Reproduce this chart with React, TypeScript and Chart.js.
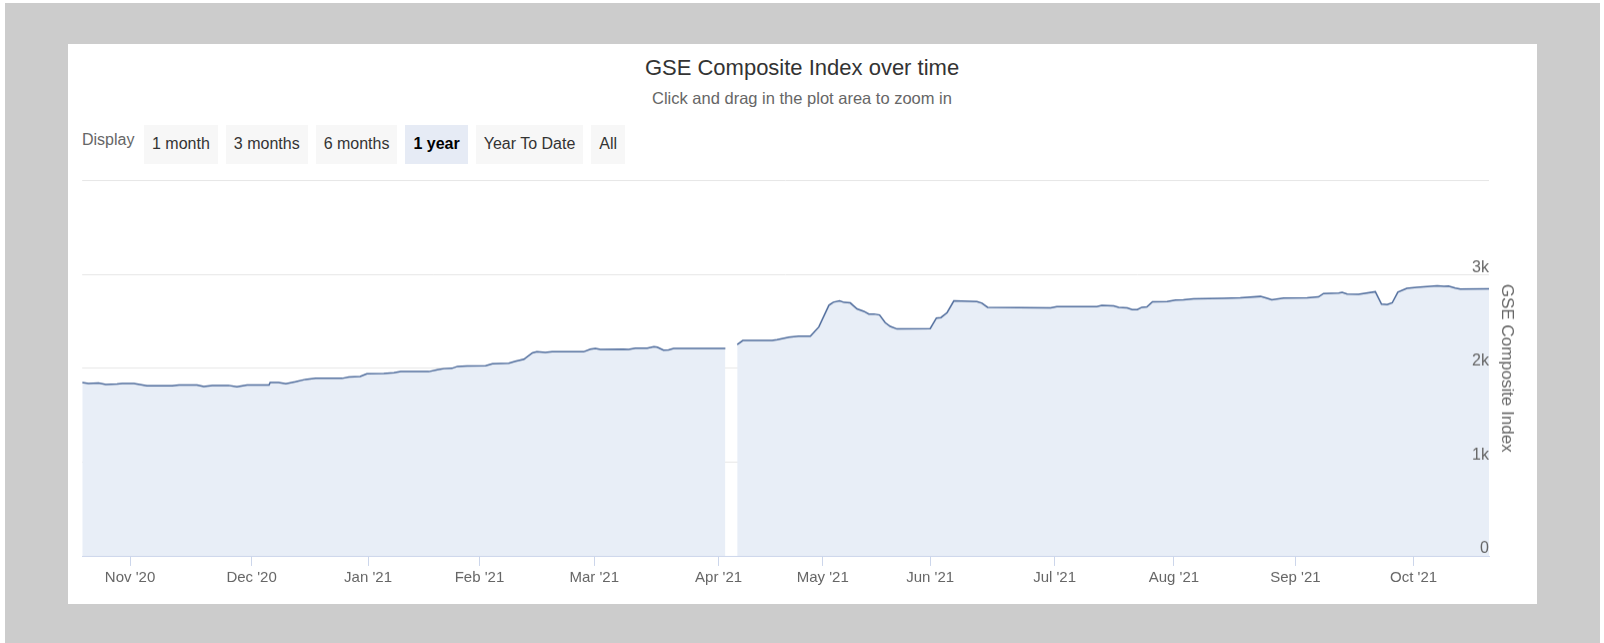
import React, { useEffect, useRef } from "react";
import { Chart, registerables } from "chart.js";

Chart.register(...registerables);

// trading-session position on the ordinal axis, and the index close
const sessions = [
  0, 1.1, 2.9, 4.2, 6.2, 7.1, 9.2, 11.5, 16.0, 17.2, 20.4, 21.6, 23.1, 26.0, 27.5, 29.3, 33.2, 33.4, 34.9,
  36.2, 37.9, 39.7, 41.5, 46.2, 47.4, 49.4, 50.6, 53.6, 55.4, 56.6, 61.6, 63.1, 64.3, 65.7, 66.7, 68.4,
  71.7, 72.9, 75.8, 77.0, 78.5, 80.0, 80.8, 82.3, 83.5, 89.1, 90.3, 91.2, 92.1, 96.2, 97.1, 98.3, 100.4,
  101.6, 102.2, 103.3, 104.2, 105.1, 114.3, 115.3, 116.4, 117.4, 122.6, 123.5, 125.6, 127.3, 129.4, 130.9,
  132.7, 133.5, 134.6, 135.4, 136.5, 137.7, 138.9, 139.8, 140.7, 141.7, 142.7, 143.6, 144.8, 150.7, 151.8,
  152.6, 153.7, 154.9, 159.0, 159.9, 160.9, 172.1, 173.2, 180.3, 181.2, 183.3, 184.2, 185.7, 186.6, 187.5,
  188.3, 189.2, 190.2, 192.8, 194.3, 195.7, 197.5, 202.8, 205.8, 209.4, 210.6, 211.4, 213.5, 217.7, 219.7,
  220.6, 223.3, 223.9, 224.8, 226.8, 229.8, 230.9, 231.9, 232.8, 233.8, 235.4, 237.2, 240.8, 242.0, 242.8,
  244.0, 244.9, 250,
];

const closes: (number | null)[] = [
  1849, 1838, 1842, 1827, 1832, 1838, 1838, 1813, 1813, 1821, 1821, 1806, 1817, 1817, 1803, 1821, 1821, 1849, 1849,
  1835, 1856, 1881, 1892, 1892, 1907, 1913, 1942, 1945, 1953, 1964, 1964, 1985, 1996, 1999, 2020, 2025,
  2028, 2049, 2053, 2074, 2096, 2164, 2175, 2167, 2175, 2175, 2203, 2210, 2200, 2203, 2200, 2214, 2214,
  2229, 2224, 2192, 2196, 2210, 2210, null, 2253, 2296, 2296, 2304, 2332, 2342, 2342, 2439,
  2672, 2704, 2718, 2701, 2696, 2632, 2607, 2578, 2578, 2568, 2486, 2446, 2418, 2422, 2535,
  2540, 2593, 2718, 2711, 2693, 2650, 2643, 2658, 2658, 2669, 2664, 2650, 2643, 2626, 2626,
  2650, 2654, 2707, 2711, 2725, 2729, 2739, 2744, 2750, 2765, 2744, 2729, 2747, 2750, 2761,
  2797, 2801, 2808, 2790, 2787, 2815, 2683, 2679, 2697, 2811, 2851, 2862, 2879, 2872, 2876,
  2854, 2843, 2847,
];

const monthTicks = [8.5, 30.1, 50.8, 70.6, 91.0, 113.1, 131.6, 150.7, 172.8, 194.0, 215.6, 236.6];
const monthLabels = [
  "Nov '20", "Dec '20", "Jan '21", "Feb '21", "Mar '21", "Apr '21",
  "May '21", "Jun '21", "Jul '21", "Aug '21", "Sep '21", "Oct '21",
];

const yTicks = [0, 1000, 2000, 3000, 4000];
const yTickLabels = ["0", "1k", "2k", "3k", ""];

const rangeButtons = ["1 month", "3 months", "6 months", "1 year", "Year To Date", "All"];
const selectedRange = "1 year";

const FONT = "'Liberation Sans', Arial, sans-serif";

const GseChart: React.FC = () => {
  const canvasRef = useRef<HTMLCanvasElement | null>(null);
  const chartRef = useRef<Chart | null>(null);

  useEffect(() => {
    if (!canvasRef.current) return;
    if (chartRef.current) chartRef.current.destroy();

    const points = sessions.map((s, i) => ({ x: s, y: closes[i] }));

    chartRef.current = new Chart(canvasRef.current, {
      type: "line",
      data: {
        datasets: [
          {
            label: "GSE Composite Index",
            data: points as any,
            borderColor: "#4f6c9c",
            borderWidth: 1.5,
            backgroundColor: "#e8eef7",
            fill: "origin",
            pointRadius: 0,
            tension: 0,
            spanGaps: false,
          },
        ],
      },
      options: {
        responsive: true,
        maintainAspectRatio: false,
        animation: false,
        layout: { padding: { left: 14.2, top: 12.5, right: 0, bottom: 14.5 } },
        plugins: {
          legend: { display: false },
          tooltip: { enabled: false },
        },
        scales: {
          x: {
            type: "linear",
            min: 0,
            max: 250,
            afterBuildTicks: (scale: any) => {
              scale.ticks = monthTicks.map((v) => ({ value: v }));
            },
            ticks: {
              autoSkip: false,
              maxRotation: 0,
              padding: 3,
              color: "#666666",
              font: { family: FONT, size: 15 },
              callback: (_v: any, i: number) => monthLabels[i],
            },
            grid: {
              drawOnChartArea: false,
              drawTicks: true,
              tickLength: 10,
              tickColor: "#ccd6eb",
              color: "#ccd6eb",
            },
            border: { display: true, color: "#ccd6eb", width: 1 },
          },
          y: {
            position: "right",
            min: 0,
            max: 4000,
            afterBuildTicks: (scale: any) => {
              scale.ticks = yTicks.map((v) => ({ value: v }));
            },
            ticks: {
              mirror: true,
              padding: 0,
              labelOffset: -7,
              z: 1,
              color: "#666666",
              font: { family: FONT, size: 16 },
              callback: (_v: any, i: number) => yTickLabels[i],
            },
            grid: { color: "#e6e6e6", lineWidth: 1, drawTicks: false },
            border: { display: false },
            title: {
              display: true,
              text: "GSE Composite Index",
              color: "#666666",
              font: { family: FONT, size: 17 },
              padding: { top: 19.8, bottom: 7.8 },
            },
          },
        },
      },
    });

    return () => {
      if (chartRef.current) {
        chartRef.current.destroy();
        chartRef.current = null;
      }
    };
  }, []);

  return (
    <div style={{ position: "absolute", left: 0, top: 124.5, width: 1469, height: 435.5 }}>
      <canvas ref={canvasRef}></canvas>
    </div>
  );
};

export default function App() {
  return (
    <div style={{ position: "fixed", left: 0, top: 0, width: 1604, height: 643, background: "#ffffff", fontFamily: FONT }}>
      <div style={{ position: "absolute", left: 5, top: 2.5, width: 1595, height: 641, background: "#cccccc" }} />
      <div style={{ position: "absolute", left: 67.5, top: 43.5, width: 1469, height: 560, background: "#ffffff" }}>
        <div style={{ position: "absolute", top: 11.5, width: "100%", textAlign: "center", fontSize: 22, color: "#333333" }}>
          GSE Composite Index over time
        </div>
        <div style={{ position: "absolute", top: 45.5, width: "100%", textAlign: "center", fontSize: 16.5, color: "#666666" }}>
          Click and drag in the plot area to zoom in
        </div>
        <div style={{ position: "absolute", left: 14.5, top: 87, fontSize: 16, color: "#666666" }}>Display</div>
        <div style={{ position: "absolute", left: 76.5, top: 81, display: "flex", gap: 8 }}>
          {rangeButtons.map((b) => (
            <div
              key={b}
              style={{
                height: 39.5,
                padding: "0 8px",
                display: "flex",
                alignItems: "center",
                fontSize: 16,
                background: b === selectedRange ? "#e6ebf5" : "#f7f7f7",
                color: b === selectedRange ? "#000000" : "#333333",
                fontWeight: b === selectedRange ? "bold" : "normal",
              }}
            >
              {b}
            </div>
          ))}
        </div>
        <GseChart />
      </div>
    </div>
  );
}
